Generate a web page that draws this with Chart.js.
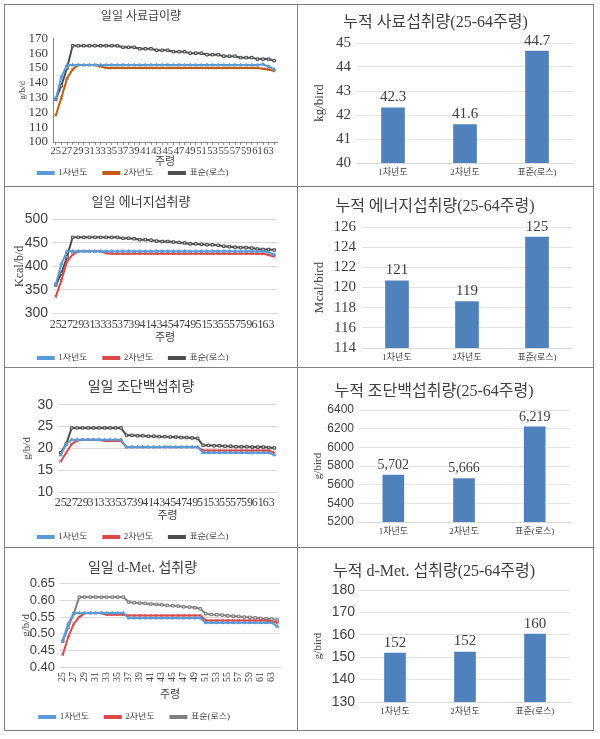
<!DOCTYPE html>
<html>
<head>
<meta charset="utf-8">
<script src="https://cdn.jsdelivr.net/npm/chart.js@4.4.0/dist/chart.umd.min.js"></script>
<style>
body { margin:0; background:#fff; width:600px; height:739px; position:relative; overflow:hidden; }
.cell { position:absolute; border:1px solid #808080; box-sizing:border-box; background:#fff; }
.cell canvas { position:absolute; left:0; top:0; }
</style>
</head>
<body>
<div class="cell" style="left:4px;top:4px;width:294px;height:183px"><canvas id="c1" width="292" height="181"></canvas></div>
<div class="cell" style="left:297px;top:4px;width:297px;height:183px"><canvas id="c2" width="295" height="181"></canvas></div>
<div class="cell" style="left:4px;top:186px;width:294px;height:182px"><canvas id="c3" width="292" height="180"></canvas></div>
<div class="cell" style="left:297px;top:186px;width:297px;height:182px"><canvas id="c4" width="295" height="180"></canvas></div>
<div class="cell" style="left:4px;top:367px;width:294px;height:181px"><canvas id="c5" width="292" height="179"></canvas></div>
<div class="cell" style="left:297px;top:367px;width:297px;height:181px"><canvas id="c6" width="295" height="179"></canvas></div>
<div class="cell" style="left:4px;top:547px;width:294px;height:184px"><canvas id="c7" width="292" height="182"></canvas></div>
<div class="cell" style="left:297px;top:547px;width:297px;height:184px"><canvas id="c8" width="295" height="182"></canvas></div>

<script>
// 주령 (weeks)
var weeks = [25,26,27,28,29,30,31,32,33,34,35,36,37,38,39,40,41,42,43,44,45,46,47,48,49,50,51,52,53,54,55,56,57,58,59,60,61,62,63,64];
var groups = ['1차년도', '2차년도', '표준(로스)'];

// 일일 사료급이량 g/b/d
var feed1 = [129,144,152,152,152,152,152,152,152,152,152,152,152,152,152,152,152,152,152,152,152,152,152,152,152,152,152,152,152,152,152,152,152,152,152,152,152,152.5,151,149];
var feed2 = [118,130,143,149,152,152,152,152,151,150,150,150,150,150,150,150,150,150,150,150,150,150,150,150,150,150,150,150,150,150,150,150,150,150,150,150,150,149.5,149,148];
var feedStd = [129,138,150,165,165,165,165,165,165,165,165,165,164,164,164,163,163,163,162,162,162,161,161,161,160,160,160,159,159,159,158,158,158,157,157,157,156,156,156,155];

// 일일 에너지섭취량 Kcal/b/d
var energy1 = [362,405,432,432,432,432,432,432,432,432,432,432,432,432,432,432,432,432,432,432,432,432,432,432,432,432,432,432,432,432,432,432,432,432,432,432,432,432,430,425];
var energy2 = [335,370,410,425,432,432,432,432,432,428,427,427,427,427,427,427,427,427,427,427,427,427,427,427,427,427,427,427,427,427,427,427,427,427,427,427,427,427,424,421];
var energyStd = [360,385,420,462,462,462,462,462,462,462,462,462,460,460,459,457,457,456,454,453,453,452,451,450,448,448,447,446,446,445,443,442,441,440,440,439,437,436,436,435];

// 일일 조단백섭취량 g/b/d
var protein1 = [18.5,21,22,22,22,22,22,22,22,22,22,22,20.3,20.3,20.3,20.3,20.3,20.3,20.3,20.3,20.3,20.3,20.3,20.3,20.3,20.3,19,19,19,19,19,19,19,19,19,19,19,19,19,18.5];
var protein2 = [17,19,21,21.8,22,22,22,22,21.7,21.7,21.7,21.7,20.3,20.3,20.3,20.3,20.3,20.3,20.3,20.3,20.3,20.3,20.3,20.3,20.3,20.3,19.5,19.5,19.5,19.5,19.5,19.5,19.5,19.5,19.5,19.5,19.5,19.5,19.5,19];
var proteinStd = [19,21,24.7,24.7,24.7,24.7,24.7,24.7,24.7,24.7,24.7,24.7,23,23,22.9,22.9,22.8,22.8,22.7,22.7,22.6,22.6,22.5,22.5,22.4,22.3,20.7,20.7,20.6,20.6,20.5,20.5,20.4,20.4,20.4,20.3,20.3,20.3,20.2,20.1];

// 일일 d-Met. 섭취량 g/b/d
var met1 = [0.48,0.53,0.562,0.562,0.562,0.562,0.562,0.562,0.562,0.562,0.562,0.562,0.547,0.547,0.547,0.547,0.547,0.547,0.547,0.547,0.547,0.547,0.547,0.547,0.547,0.547,0.533,0.533,0.533,0.533,0.533,0.533,0.533,0.533,0.533,0.533,0.533,0.533,0.533,0.522];
var met2 = [0.437,0.49,0.53,0.55,0.562,0.562,0.562,0.562,0.557,0.557,0.557,0.557,0.555,0.555,0.555,0.555,0.555,0.555,0.555,0.555,0.555,0.555,0.555,0.555,0.555,0.555,0.54,0.54,0.54,0.54,0.54,0.54,0.54,0.54,0.54,0.54,0.54,0.54,0.537,0.533];
var metStd = [0.477,0.52,0.56,0.61,0.61,0.61,0.61,0.61,0.61,0.61,0.61,0.61,0.595,0.593,0.592,0.591,0.589,0.588,0.587,0.585,0.584,0.583,0.581,0.58,0.578,0.575,0.56,0.558,0.557,0.556,0.554,0.553,0.552,0.55,0.549,0.548,0.546,0.545,0.544,0.541];

// 누적 (25-64주령)
var feedTotal = [42.3, 41.6, 44.66];
var energyTotal = [120.65, 118.6, 125.0];
var proteinTotal = [5702, 5666, 6219];
var metTotal = [151.8, 152.3, 160.3];

var serif = "'Liberation Serif', 'Noto Sans CJK KR', serif";
var sans = "'Liberation Sans', 'Noto Sans CJK KR', sans-serif";
var txt = '#404040';
var blue = '#5B9BD5';

function series(label, data, color, style, fill) {
  return {
    label: label, data: data, borderColor: color, backgroundColor: color,
    borderWidth: 2, pointStyle: style, pointRadius: 1.8,
    pointBackgroundColor: fill || color, pointBorderColor: color, pointBorderWidth: 1,
    tension: 0
  };
}

function lineChart(id, g) {
  new Chart(document.getElementById(id), {
    type: 'line',
    data: {
      labels: weeks,
      datasets: [
        series(groups[0], g.s1, blue, 'triangle'),
        series(groups[1], g.s2, g.c2, 'crossRot'),
        series(groups[2], g.s3, g.c3, 'rect', '#d0d0d0')
      ]
    },
    options: {
      responsive: false, animation: false,
      layout: { padding: { left: 0, right: g.padR, top: 0, bottom: g.padB } },
      plugins: {
        title: { display: true, text: g.title, color: txt, font: { family: serif, size: g.tSize, weight: 'normal' }, padding: { top: g.tTop, bottom: g.tBot } },
        legend: {
          position: 'bottom',
          labels: {
            boxWidth: 16, boxHeight: 2, padding: 0, color: txt, font: { family: serif, size: 9 },
            generateLabels: function (chart) {
              var items = Chart.defaults.plugins.legend.labels.generateLabels(chart);
              items.forEach(function (it) { it.text = it.text + '       '; });
              return items;
            }
          }
        },
        tooltip: { enabled: false }
      },
      scales: {
        x: {
          offset: true,
          grid: { display: g.axisLine, drawOnChartArea: false, drawTicks: true, tickLength: 3, color: '#999' },
          border: { display: true, color: g.axisLine ? '#888' : '#d9d9d9' },
          ticks: {
            autoSkip: false, maxRotation: g.rot, minRotation: g.rot, padding: g.xPad, color: txt,
            font: { family: serif, size: g.xSize },
            callback: function (v, i) { return i % 2 === 0 ? this.getLabelForValue(v) : ''; }
          },
          title: { display: true, text: '주령', color: txt, font: { family: serif, size: 11 }, padding: { top: 0, bottom: g.jPad } },
          afterFit: function (s) { s.height = g.xH; }
        },
        y: {
          min: g.min, max: g.max,
          grid: { display: !g.axisLine, color: '#d9d9d9', drawTicks: false },
          border: { display: g.axisLine, color: '#888' },
          ticks: {
            autoSkip: false, stepSize: g.step, padding: 5, color: txt, font: { family: g.yFont, size: g.ySize },
            callback: function (v) { return g.dec ? v.toFixed(g.dec) : String(v); }
          },
          title: { display: true, text: g.yTitle, color: txt, font: { family: serif, size: g.ytSize }, padding: { top: g.ytPad, bottom: 0 } },
          afterFit: function (s) { s.width = g.yW; }
        }
      }
    }
  });
}

function valueLabels(fmt, font) {
  return {
    id: 'valueLabels',
    afterDatasetsDraw: function (chart) {
      var ctx = chart.ctx;
      var meta = chart.getDatasetMeta(0);
      var vals = chart.data.datasets[0].data;
      ctx.save();
      ctx.font = font;
      ctx.fillStyle = txt;
      ctx.textAlign = 'center';
      ctx.textBaseline = 'bottom';
      meta.data.forEach(function (bar, i) { ctx.fillText(fmt(vals[i]), bar.x, bar.y - 3); });
      ctx.restore();
    }
  };
}

function barChart(id, g) {
  new Chart(document.getElementById(id), {
    type: 'bar',
    data: { labels: groups, datasets: [{ data: g.data, backgroundColor: '#4F81BD', barThickness: g.barW }] },
    options: {
      responsive: false, animation: false,
      layout: { padding: { left: 0, right: g.padR, top: 0, bottom: 0 } },
      plugins: {
        title: { display: true, text: g.title, color: txt, font: { family: serif, size: 16, weight: 'normal' }, padding: { top: g.tTop, bottom: g.tBot } },
        legend: { display: false },
        tooltip: { enabled: false }
      },
      scales: {
        x: {
          grid: { display: false, drawTicks: false },
          border: { color: '#d9d9d9' },
          ticks: { padding: g.xPad, color: txt, font: { family: serif, size: 9 } },
          afterFit: function (s) { s.height = g.xH; }
        },
        y: {
          min: g.min, max: g.max,
          grid: { color: '#e3e3e3', drawTicks: false },
          border: { display: false },
          ticks: {
            autoSkip: false, stepSize: g.step, padding: g.yPad, color: txt, font: { family: g.yFont, size: g.ySize },
            callback: function (v) { return String(v); }
          },
          title: { display: true, text: g.yTitle, color: txt, font: { family: serif, size: g.ytSize }, padding: { top: g.ytPad, bottom: 0 } },
          afterFit: function (s) { s.width = g.yW; }
        }
      }
    },
    plugins: [valueLabels(g.fmt, g.lblFont)]
  });
}

lineChart('c1', {
  title: '일일 사료급이량', s1: feed1, s2: feed2, s3: feedStd, c2: '#C55A11', c3: '#4D4D4D',
  min: 100, max: 170, step: 10, yTitle: 'g/b/d', ytSize: 9, ytPad: 12, yFont: serif, ySize: 13,
  axisLine: true, tSize: 12, tTop: 5, tBot: 14, padR: 20, padB: -1.5, yW: 48,
  xH: 26.5, xPad: 0, xSize: 10.5, rot: 0, jPad: 0
});
lineChart('c3', {
  title: '일일 에너지섭취량', s1: energy1, s2: energy2, s3: energyStd, c2: '#E04848', c3: '#4D4D4D',
  min: 300, max: 500, step: 50, yTitle: 'Kcal/b/d', ytSize: 12, ytPad: 8, yFont: sans, ySize: 14,
  axisLine: false, tSize: 13, tTop: 8, tBot: 9, padR: 20, padB: -5.5, yW: 48,
  xH: 40.5, xPad: 2, xSize: 12, rot: 0, jPad: 9
});
lineChart('c5', {
  title: '일일 조단백섭취량', s1: protein1, s2: protein2, s3: proteinStd, c2: '#E04848', c3: '#4D4D4D',
  min: 10, max: 30, step: 5, yTitle: 'g/b/d', ytSize: 11, ytPad: 16, yFont: sans, ySize: 14,
  axisLine: false, tSize: 14, tTop: 10.5, tBot: 9.5, padR: 20, padB: -4.5, yW: 53,
  xH: 40.5, xPad: 1, xSize: 12, rot: 0, jPad: 9.5
});
lineChart('c7', {
  title: '일일 d-Met. 섭취량', s1: met1, s2: met2, s3: metStd, c2: '#E04848', c3: '#808080',
  min: 0.4, max: 0.65, step: 0.05, dec: 2, yTitle: 'g/b/d', ytSize: 11, ytPad: 15, yFont: sans, ySize: 13,
  axisLine: false, tSize: 14, tTop: 11.5, tBot: 7.5, padR: 17, padB: -1.5, yW: 55,
  xH: 45.5, xPad: 2, xSize: 10, rot: 90, jPad: 11
});

barChart('c2', {
  title: '누적 사료섭취량(25-64주령)', data: feedTotal, min: 40, max: 45, step: 1,
  yTitle: 'kg/bird', ytSize: 13, ytPad: 14, yFont: serif, ySize: 15, yPad: 6,
  tTop: 8.4, tBot: 10.4, padR: 20, yW: 59, xH: 23, xPad: 4.6, barW: 23,
  fmt: function (v) { return v.toFixed(1); }, lblFont: "15px " + serif
});
barChart('c4', {
  title: '누적 에너지섭취량(25-64주령)', data: energyTotal, min: 114, max: 126, step: 2,
  yTitle: 'Mcal/bird', ytSize: 13, ytPad: 14, yFont: serif, ySize: 15, yPad: 6,
  tTop: 10.4, tBot: 10.4, padR: 21, yW: 64, xH: 19, xPad: 4.6, barW: 23,
  fmt: function (v) { return Math.round(v).toString(); }, lblFont: "15px " + serif
});
barChart('c6', {
  title: '누적 조단백섭취량(25-64주령)', data: proteinTotal, min: 5200, max: 6400, step: 200,
  yTitle: 'g/bird', ytSize: 11, ytPad: 14, yFont: sans, ySize: 12, yPad: 4,
  tTop: 14.4, tBot: 8.4, padR: 23, yW: 60, xH: 25, xPad: 4.6, barW: 21,
  fmt: function (v) { return Math.round(v).toLocaleString('en-US'); }, lblFont: "14px " + serif
});
barChart('c8', {
  title: '누적 d-Met. 섭취량(25-64주령)', data: metTotal, min: 130, max: 180, step: 10,
  yTitle: 'g/bird', ytSize: 11, ytPad: 14, yFont: sans, ySize: 14, yPad: 5,
  tTop: 14.4, tBot: 8.4, padR: 23, yW: 62, xH: 28, xPad: 4.6, barW: 21,
  fmt: function (v) { return Math.round(v).toString(); }, lblFont: "15px " + serif
});
</script>
</body>
</html>
